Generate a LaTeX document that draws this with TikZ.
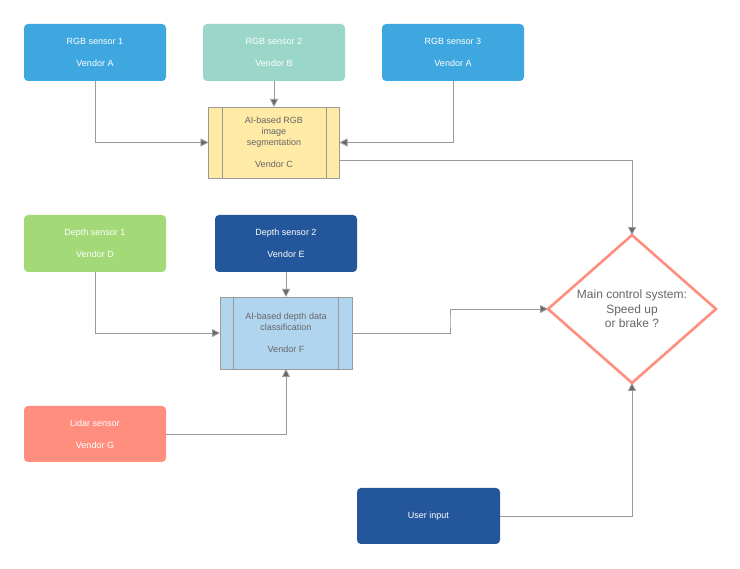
\documentclass[tikz,border=0pt]{standalone}
\usepackage{fontspec}
\setmainfont{Liberation Sans}
\usetikzlibrary{shapes.geometric,arrows.meta,calc}
\definecolor{cblue}{HTML}{3EA7DF}
\definecolor{cteal}{HTML}{9BD7C9}
\definecolor{cyellow}{HTML}{FFEAA6}
\definecolor{cgreen}{HTML}{A3D977}
\definecolor{cnavy}{HTML}{23569A}
\definecolor{clblue}{HTML}{B2D5EF}
\definecolor{csalmon}{HTML}{FF8E7F}
\definecolor{cline}{HTML}{9A9A9A}
\definecolor{ctip}{HTML}{666666}
\definecolor{ctext}{HTML}{666666}
\tikzset{
  sensor/.style={rectangle, rounded corners=4pt, minimum width=142pt, minimum height=57pt,
    inner sep=0pt, text=white, align=center, font=\fontsize{9}{11}\selectfont},
  procbox/.style={rectangle, draw=cline, line width=0.8pt, inner sep=0pt, outer sep=0pt, text=ctext,
    align=center, font=\fontsize{9}{11}\selectfont},
  decision/.style={diamond, draw=csalmon, line width=2.6pt, fill=white, inner sep=0pt, outer sep=0pt,
    minimum width=168pt, minimum height=144pt, text=ctext, align=center,
    font=\fontsize{12}{14.5}\selectfont},
  conn/.style={draw=cline, line width=0.9pt, -{Triangle[length=8pt,width=8pt,fill=ctip]}},
  plain/.style={draw=cline, line width=0.9pt},
}
\begin{document}
\begin{tikzpicture}[x=1pt,y=-1pt]
\useasboundingbox (0,0) rectangle (740,569);
% sensors
\node[sensor, fill=cblue] (rgb1) at (95,52.5) {RGB sensor 1\\[11pt]Vendor A};
\node[sensor, fill=cteal] (rgb2) at (274,52.5) {RGB sensor 2\\[11pt]Vendor B};
\node[sensor, fill=cblue] (rgb3) at (453,52.5) {RGB sensor 3\\[11pt]Vendor A};
\node[sensor, fill=cgreen] (dep1) at (95,243.5) {Depth sensor 1\\[11pt]Vendor D};
\node[sensor, fill=cnavy] (dep2) at (286,243.5) {Depth sensor 2\\[11pt]Vendor E};
\node[sensor, fill=csalmon, minimum height=56pt] (lidar) at (95,434) {Lidar sensor\\[11pt]Vendor G};
\node[sensor, fill=cnavy, minimum width=143pt, minimum height=56pt] (user) at (428.5,516) {User input};
% process boxes
\node[procbox, fill=cyellow, minimum width=131pt, minimum height=71pt] (rgbai) at (274,142.5)
  {AI-based RGB\\image\\segmentation\\[11pt]Vendor C};
\draw[plain] ([xshift=14pt]rgbai.north west) -- ([xshift=14pt]rgbai.south west);
\draw[plain] ([xshift=-13pt]rgbai.north east) -- ([xshift=-13pt]rgbai.south east);
\node[procbox, fill=clblue, minimum width=132pt, minimum height=72pt] (depai) at (286,333)
  {AI-based depth data\\classification\\[11pt]Vendor F};
\draw[plain] ([xshift=13pt]depai.north west) -- ([xshift=13pt]depai.south west);
\draw[plain] ([xshift=-14pt]depai.north east) -- ([xshift=-14pt]depai.south east);
% decision
\node[decision] (main) at (632,309) {Main control system:\\Speed up\\or brake ?};
% connectors
\draw[conn] (rgb1.south) |- (rgbai.west);
\draw[conn] (rgb2.south) -- (rgbai.north);
\draw[conn] (rgb3.south) |- (rgbai.east);
\coordinate (rgbout) at ([yshift=-17.5pt]rgbai.east);
\draw[conn] (rgbout) -| (main.north);
\draw[conn] (dep1.south) |- (depai.west);
\draw[conn] (dep2.south) -- (depai.north);
\draw[conn] (lidar.east) -| (depai.south);
\coordinate (mid) at ($(depai.east)!0.5!(main.west)$);
\draw[conn] (depai.east) -| (mid) |- (main.west);
\draw[conn] (user.east) -| (main.south);
\end{tikzpicture}
\end{document}
